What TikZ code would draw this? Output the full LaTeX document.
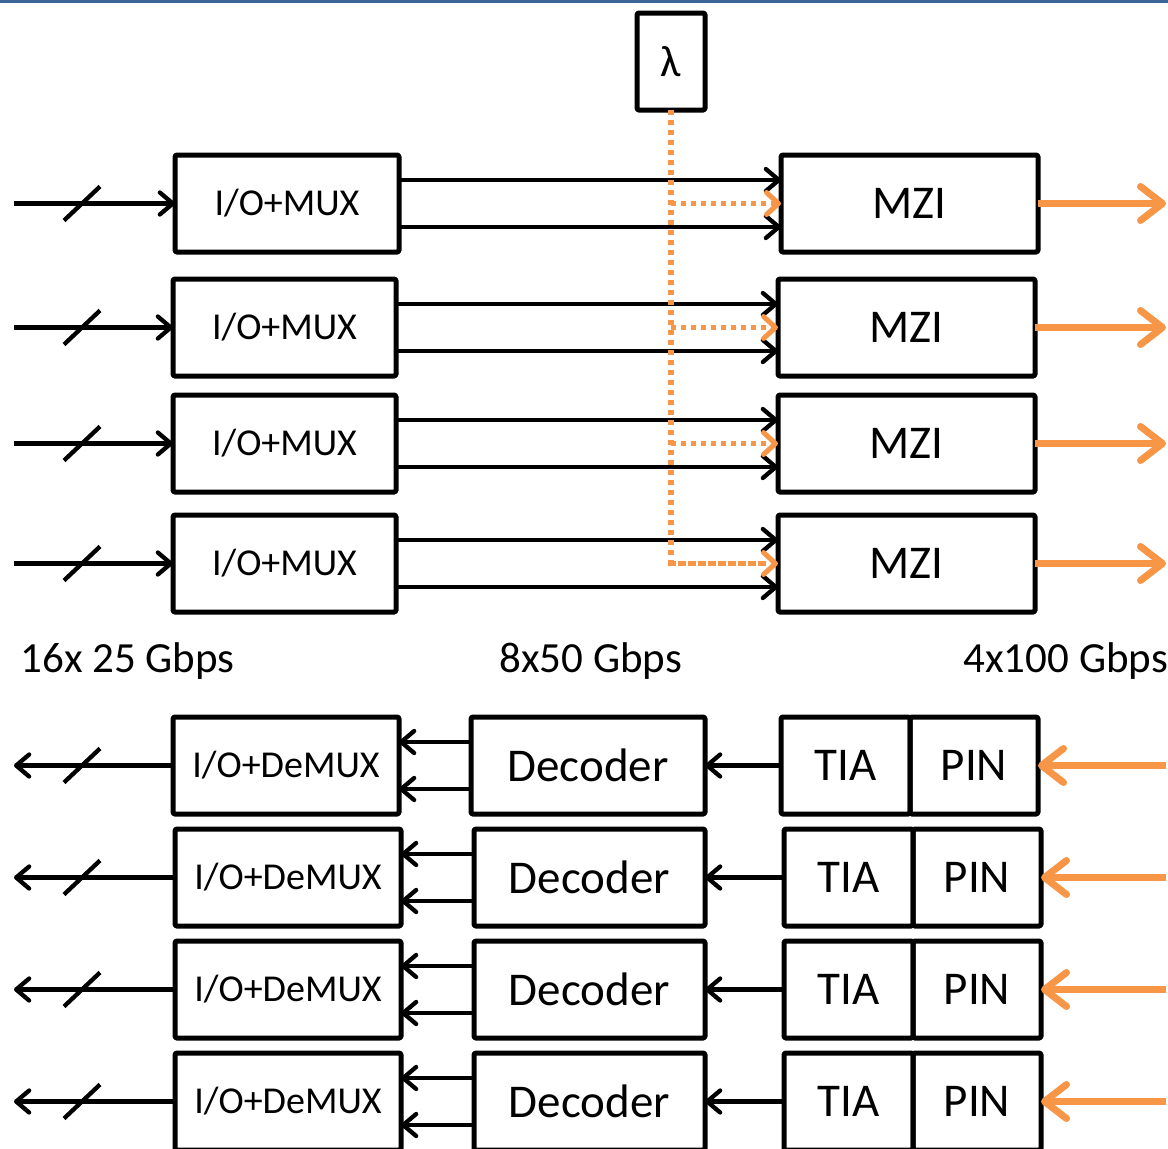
\documentclass[tikz,border=0pt]{standalone}
\usepackage{fontspec}
\setmainfont{Carlito}
\usetikzlibrary{arrows.meta}
\definecolor{orng}{HTML}{F79646}
\definecolor{topblue}{HTML}{3A6595}
\newcommand\fsz[1]{\fontsize{#1}{#1}\selectfont}
\begin{document}
\begin{tikzpicture}[x=1pt,y=-1pt,
  box/.style={draw, line width=5pt, rounded corners=1.5pt, inner sep=0pt, outer sep=0pt, line join=round},
  blk/.style={line width=4.3pt, -{Straight Barb[length=13pt,width=22pt,line width=4.3pt,round]}},
  slashmark/.style={line width=4.3pt},
  oarr/.style={draw=orng, line width=7pt, -{Straight Barb[length=22pt,width=34pt,line width=7pt,round]}},
  odot/.style={draw=orng, line width=5.5pt, dash pattern=on 5pt off 5pt},
  odotarr/.style={odot, -{Straight Barb[length=12pt,width=22pt,line width=5pt,round]}},
  lab/.style={anchor=base west, font=\fsz{43}}
]
\useasboundingbox (0,0) rectangle (1168,1149);
\fill[topblue] (0,0) rectangle (1168,2.5);

% lambda source
\node[box, minimum width=68pt, minimum height=97pt, font=\fsz{44}] (lam) at (671,61.5) {λ};

% transmitter rows
\foreach \i/\ax/\bx/\ya/\yb/\za/\zb in {1/175/399/155/252/781/1038, 2/173/396/279/376/778/1035, 3/173/396/395/492/778/1035, 4/173/396/515/612/778/1035} {
  \node[box, minimum width={(\bx-\ax)*1pt}, minimum height={(\yb-\ya)*1pt}, font=\fsz{38}] (mux\i) at ({(\ax+\bx)/2},{(\ya+\yb)/2}) {I/O+MUX};
  \node[box, minimum width={(\zb-\za)*1pt}, minimum height={(\yb-\ya)*1pt}, font=\fsz{47}] (mzi\i) at ({(\za+\zb)/2},{(\ya+\yb)/2}) {MZI};
  \coordinate (in\i) at (14,{(\ya+\yb)/2});
  \coordinate (out\i) at (1166,{(\ya+\yb)/2});
  \draw[blk] (in\i) -- (mux\i.west);
  \draw[slashmark] ([shift={(50,17)}]in\i) -- ++(36,-34);
  \draw[blk] ([yshift=23.5pt]mux\i.east) -- ([yshift=23.5pt]mux\i.east -| mzi\i.west);
  \draw[blk] ([yshift=-23.5pt]mux\i.east) -- ([yshift=-23.5pt]mux\i.east -| mzi\i.west);
  \draw[oarr] (mzi\i.east) -- (out\i);
}

% laser distribution
\draw[odot] (lam.south) -- (lam.south |- mzi4.west) -- ([xshift=-12pt]mzi4.west);
\foreach \i in {1,2,3,4} {
  \draw[odotarr] (lam.south |- mzi\i.west) -- (mzi\i.west);
}

% rate labels
\node[lab] (r1) at (17,672) {16x 25 Gbps};
\node[lab] (r2) at (496,672) {8x50 Gbps};
\node[lab] (r3) at (960,672) {4x100 Gbps};

% receiver rows
\foreach \i/\ax/\bx/\ya/\yb/\ca/\ta/\pa/\pb in {1/173/399/717/814/471/781/910/1038, 2/175/401/829/926/474/784/913/1041, 3/175/401/941/1038/474/784/913/1041, 4/175/401/1053/1150/474/784/913/1041} {
  \node[box, minimum width={(\bx-\ax)*1pt}, minimum height={(\yb-\ya)*1pt}, font=\fsz{38}] (dmx\i) at ({(\ax+\bx)/2},{(\ya+\yb)/2}) {I/O+DeMUX};
  \node[box, minimum width={(705-\ca)*1pt}, minimum height={(\yb-\ya)*1pt}, font=\fsz{47}] (dec\i) at ({(\ca+705)/2},{(\ya+\yb)/2}) {Decoder};
  \node[box, minimum width={(\pa-\ta)*1pt}, minimum height={(\yb-\ya)*1pt}, font=\fsz{47}] (tia\i) at ({(\ta+\pa)/2},{(\ya+\yb)/2}) {TIA};
  \node[box, minimum width={(\pb-\pa)*1pt}, minimum height={(\yb-\ya)*1pt}, font=\fsz{47}] (pin\i) at ({(\pa+\pb)/2},{(\ya+\yb)/2}) {PIN};
  \coordinate (rin\i) at (1166,{(\ya+\yb)/2});
  \coordinate (rout\i) at (14,{(\ya+\yb)/2});
  \draw[oarr] (rin\i) -- (pin\i.east);
  \draw[blk] (tia\i.west) -- (dec\i.east);
  \draw[blk] ([yshift=23.5pt]dec\i.west) -- ([yshift=23.5pt]dec\i.west -| dmx\i.east);
  \draw[blk] ([yshift=-23.5pt]dec\i.west) -- ([yshift=-23.5pt]dec\i.west -| dmx\i.east);
  \draw[blk] (dmx\i.west) -- (rout\i);
  \draw[slashmark] ([shift={(50,17)}]rout\i) -- ++(36,-34);
}
\end{tikzpicture}
\end{document}
